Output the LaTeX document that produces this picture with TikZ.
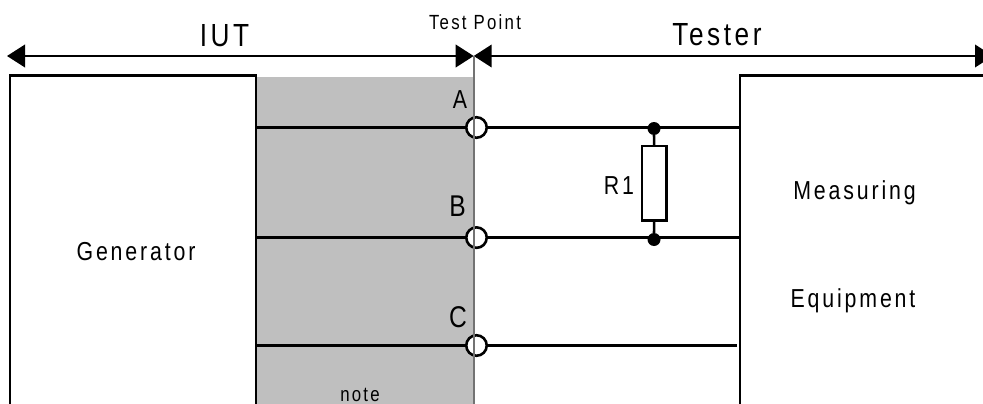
\documentclass[tikz,border=0pt]{standalone}
\usepackage{fontspec}
\usepackage{tikz}
\setmainfont{Liberation Sans}[FakeStretch=0.82,LetterSpace=11]
\usetikzlibrary{arrows.meta,positioning}

\begin{document}
\begin{tikzpicture}[
		x=1pt, y=-1pt,
		box/.style={
			draw, line width=2.2pt, anchor=north west, outer sep=0pt, minimum height=400pt
		},
		terminal/.style={
			circle, draw, fill=white, line width=2.6pt, minimum size=20.5pt, inner sep=0pt
		},
		joint/.style={
			circle, fill=black, minimum size=13pt, inner sep=0pt
		},
		resistor/.style={
			draw, fill=white, line width=2.4pt, minimum width=24.5pt, minimum height=74.5pt, inner sep=0pt
		},
		wire/.style={line width=2.6pt},
		span/.style={line width=2.2pt, <->, >={Triangle[length=18pt,width=22.5pt]}},
		big/.style={anchor=base, font=\fontsize{32}{36}\selectfont},
		mid/.style={anchor=base, font=\fontsize{26}{30}\selectfont},
		small/.style={anchor=base, font=\fontsize{20.5}{24}\selectfont},
		]
		\useasboundingbox (0,0) rectangle (983,404);
		\clip (0,0) rectangle (983,404);

		% Shaded area
		\fill [black!25] (257,77) rectangle (474.5,404);

		% Blocks
		\node [box, minimum width=245.7pt] (generator) at (10.3,75.5) {};
		\node [box, minimum width=300pt] (measuring) at (740,75.5) {};

		% Terminals
		\node [terminal] (pointA) at (476.5,127.5) {};
		\node [terminal] (pointB) at (476.5,237.6) {};
		\node [terminal] (pointC) at (476.5,345.5) {};

		% Wires
		\draw [wire] (generator.east |- pointA) -- (pointA);
		\draw [wire] (generator.east |- pointB) -- (pointB);
		\draw [wire] (generator.east |- pointC) -- (pointC);
		\draw [wire] (pointA) -- (measuring.west |- pointA);
		\draw [wire] (pointB) -- (measuring.west |- pointB);
		\draw [wire, shorten >=3pt] (pointC) -- (measuring.west |- pointC);

		% R1
		\node [joint] (jointA) at (654,128.5) {};
		\node [joint] (jointB) at (654,239.5) {};
		\node [resistor] (res) at (654.3,183.3) {};
		\draw [wire] (jointA) -- (res);
		\draw [wire] (res) -- (jointB);

		% Top arrows
		\coordinate (spanL) at (7,56);
		\coordinate (spanT) at (473.7,56);
		\coordinate (spanR) at (993,56);
		\coordinate (spanB) at (473.7,404);
		\draw [span] (spanL) -- (spanT);
		\draw [span] (spanT) -- (spanR);
		\draw [line width=1.6pt, black!55] (spanT) -- (spanB);

		% Labels
		\node [big] (iut) at (224.5,46.5) {IUT};
		\node [big] (tester) at (717,46) {Tester};
		\node [small] (testpoint) at (475,30) {Test Point};
		\node [mid] (labelA) at (460,108) {A};
		\node [big, font=\fontsize{30}{34}\selectfont] (labelB) at (457.5,216.5) {B};
		\node [big, font=\fontsize{30}{34}\selectfont] (labelC) at (458,327.5) {C};
		\node [mid] (labelR) at (619,194) {R1};
		\node [mid] (labelgen) at (136,260) {Generator};
		\node [mid] (labelmeas) at (854.5,199.5) {Measuring};
		\node [mid] (labelequip) at (853,307) {Equipment};
		\node [small] (note) at (360,401) {note};
	\end{tikzpicture}
\end{document}
